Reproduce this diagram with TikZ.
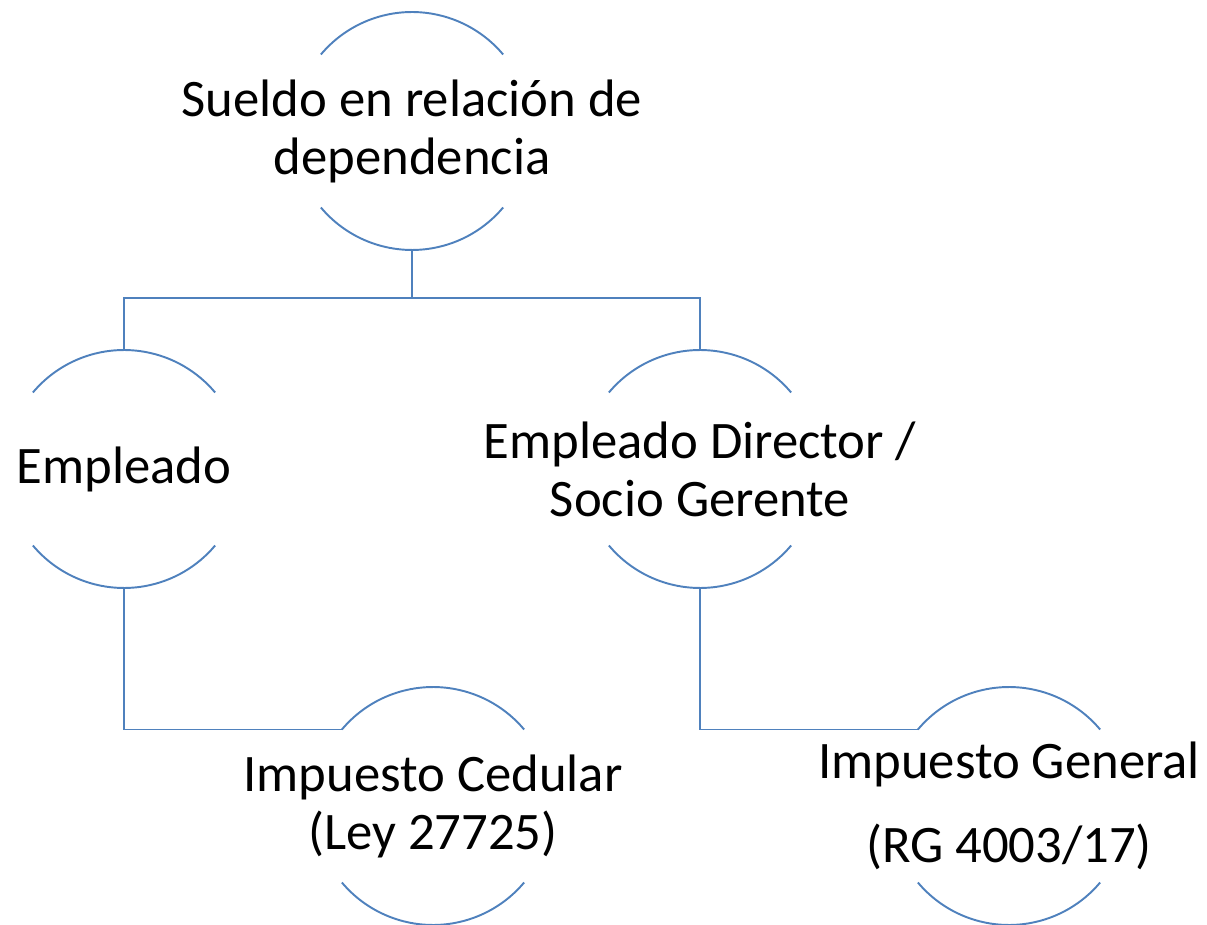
\documentclass[tikz,border=0pt]{standalone}
\usepackage{fontspec}
\setmainfont{Carlito}
\usepackage{xcolor}
\usepackage{tikz}
\usetikzlibrary{positioning}
\definecolor{arcblue}{RGB}{79,129,189}

\begin{document}
\begin{tikzpicture}[x=0.02cm, y=-0.02cm]
            % Block styles
            \tikzstyle{ring} = [circle, minimum size=4.76cm, inner sep=0pt, outer sep=0pt]
            \tikzstyle{label_text} = [align=center, font=\fontsize{30}{33}\selectfont]
            \tikzstyle{arcline} = [draw=arcblue, line width=1.1pt]
            \tikzstyle{link} = [draw=arcblue, line width=1.1pt]
            \useasboundingbox (0,0) rectangle (1207,925);
            % Rings
            \node[ring] (sueldo) at (412,131) {};
            \node[ring] (empleado) at (124,469) {};
            \node[ring] (director) at (700,469) {};
            \node[ring] (cedular) at (433,806) {};
            \node[ring] (general) at (1009,806) {};
            % Texts
            \node[label_text] at (sueldo) {Sueldo en relación de\\dependencia};
            \node[label_text] at (empleado) {Empleado};
            \node[label_text] at (director) {Empleado Director /\\Socio Gerente};
            \node[label_text] at (cedular) {Impuesto Cedular\\(Ley 27725)};
            \node[label_text] at (general) {Impuesto General\\[15pt](RG 4003/17)};
            % Arcs above and below each text
            \foreach \n in {sueldo,empleado,director,cedular,general}{
                \draw[arcline] (\n.140) arc[start angle=140, end angle=40, radius=2.38cm];
                \draw[arcline] (\n.220) arc[start angle=220, end angle=320, radius=2.38cm];
            }
            % Connections
            \draw[link] (sueldo.south) -- ++(0,48) -| (empleado.north);
            \draw[link] (sueldo.south) -- ++(0,48) -| (director.north);
            \draw[link] (empleado.south) |- (cedular.140);
            \draw[link] (director.south) |- (general.140);
        \end{tikzpicture}
\end{document}
